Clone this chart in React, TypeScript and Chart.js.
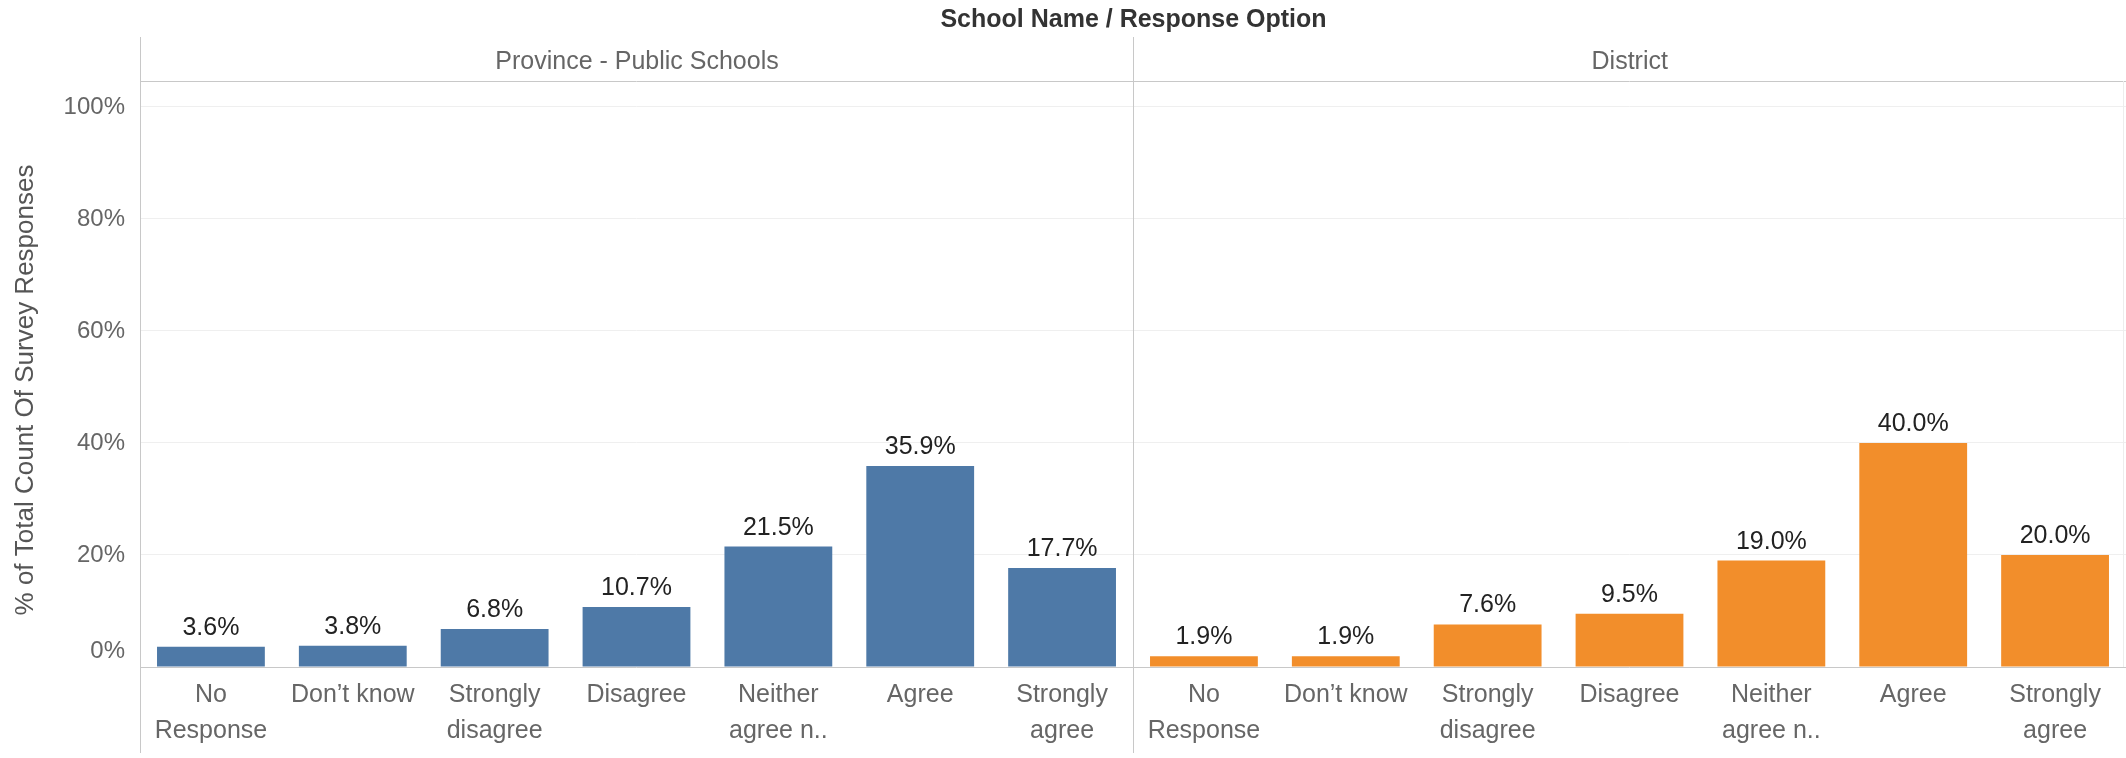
import React, { useEffect, useRef } from "react";
import { Chart, registerables } from "chart.js";

Chart.register(...registerables);

const title = "School Name / Response Option";
const panels = ["Province - Public Schools", "District"];
const responseOptions: string[][] = [
  ["No", "Response"],
  ["Don\u2019t know"],
  ["Strongly", "disagree"],
  ["Disagree"],
  ["Neither", "agree n.."],
  ["Agree"],
  ["Strongly", "agree"],
];
const provinceValues = [3.6, 3.8, 6.8, 10.7, 21.5, 35.9, 17.7];
const districtValues = [1.9, 1.9, 7.6, 9.5, 19.0, 40.0, 20.0];
const yTickValues = [0, 20, 40, 60, 80, 100];
const yTitle = "% of Total Count Of Survey Responses";

const BLUE = "#4e79a7";
const ORANGE = "#f28e2b";
const FONT = "'Liberation Sans', Arial, sans-serif";

export default function App() {
  const ref = useRef<HTMLCanvasElement | null>(null);

  useEffect(() => {
    document.body.style.margin = "0";
    const canvas = ref.current;
    if (!canvas) return;

    const labels = [...responseOptions, ...responseOptions];
    const values = [...provinceValues, ...districtValues];
    const colors = [
      ...provinceValues.map(() => BLUE),
      ...districtValues.map(() => ORANGE),
    ];

    const decor = {
      id: "decor",
      afterDraw(chart: any) {
        const ctx = chart.ctx;
        const area = chart.chartArea;
        const xs = chart.scales.x;
        const ys = chart.scales.y;
        const n = provinceValues.length;
        const divX = Math.round((xs.getPixelForValue(n - 1) + xs.getPixelForValue(n)) / 2) + 0.5;
        const leftX = Math.round(area.left) + 0.5;
        ctx.save();
        // lines
        ctx.strokeStyle = "#c8c8c8";
        ctx.lineWidth = 1;
        ctx.beginPath();
        ctx.moveTo(leftX, 37);
        ctx.lineTo(leftX, 753);
        ctx.moveTo(divX, 37);
        ctx.lineTo(divX, 753);
        ctx.moveTo(area.left, Math.round(area.top) + 0.5);
        ctx.lineTo(area.right, Math.round(area.top) + 0.5);
        ctx.moveTo(area.left, Math.round(area.bottom) + 0.5);
        ctx.lineTo(area.right, Math.round(area.bottom) + 0.5);
        ctx.stroke();
        ctx.strokeStyle = "#ededed";
        ctx.beginPath();
        ctx.moveTo(area.right - 2.5, area.top);
        ctx.lineTo(area.right - 2.5, area.bottom);
        ctx.stroke();

        // title
        ctx.fillStyle = "#333333";
        ctx.font = `bold 25px ${FONT}`;
        ctx.textAlign = "center";
        ctx.textBaseline = "middle";
        ctx.fillText(title, divX, 20);

        // panel headers
        ctx.fillStyle = "#666666";
        ctx.font = `25px ${FONT}`;
        ctx.fillText(panels[0], (leftX + divX) / 2, 62);
        ctx.fillText(panels[1], (divX + area.right) / 2, 62);

        // y tick labels
        ctx.textAlign = "right";
        ctx.font = `24px ${FONT}`;
        yTickValues.forEach((v) => {
          let y = ys.getPixelForValue(v);
          if (y > area.bottom - 16) y = area.bottom - 16;
          ctx.fillText(`${v}%`, 125, y);
        });

        // y title
        ctx.save();
        ctx.translate(26, (area.top + area.bottom) / 2 + 16);
        ctx.rotate(-Math.PI / 2);
        ctx.textAlign = "center";
        ctx.textBaseline = "middle";
        ctx.fillStyle = "#555555";
        ctx.font = `26px ${FONT}`;
        ctx.fillText(yTitle, 0, 0);
        ctx.restore();

        // data labels
        const meta = chart.getDatasetMeta(0);
        ctx.fillStyle = "#222222";
        ctx.font = `25px ${FONT}`;
        ctx.textAlign = "center";
        ctx.textBaseline = "alphabetic";
        meta.data.forEach((bar: any, i: number) => {
          const v = values[i];
          ctx.fillText(`${v.toFixed(1)}%`, bar.x, bar.y - 12);
        });
        ctx.restore();
      },
    };

    const chart = new Chart(canvas, {
      type: "bar",
      data: {
        labels,
        datasets: [
          {
            data: values,
            backgroundColor: colors,
            borderWidth: 0,
            categoryPercentage: 1,
            barPercentage: 0.76,
          },
        ],
      },
      options: {
        responsive: false,
        animation: false,
        devicePixelRatio: 1,
        layout: { padding: { top: 81, left: 0, right: 0, bottom: 0 } },
        plugins: {
          legend: { display: false },
          tooltip: { enabled: false },
          title: { display: false },
        },
        scales: {
          x: {
            grid: { display: false, drawTicks: false },
            border: { display: false },
            ticks: {
              autoSkip: false,
              maxRotation: 0,
              minRotation: 0,
              padding: 10,
              color: "#666666",
              font: { family: FONT, size: 25, lineHeight: 1.44 },
            },
            afterFit(scale: any) {
              scale.height = 91;
            },
          },
          y: {
            min: 0,
            max: 104.64,
            grid: { color: "#efefef", lineWidth: 1, drawTicks: false },
            border: { display: false },
            ticks: { display: false },
            afterBuildTicks(scale: any) {
              scale.ticks = yTickValues.map((v) => ({ value: v }));
            },
            afterFit(scale: any) {
              scale.width = 140;
            },
          },
        },
      },
      plugins: [decor],
    });

    return () => chart.destroy();
  }, []);

  return (
    <div style={{ width: 2126, height: 758, background: "#ffffff" }}>
      <canvas ref={ref} width={2126} height={758} style={{ display: "block" }} />
    </div>
  );
}
